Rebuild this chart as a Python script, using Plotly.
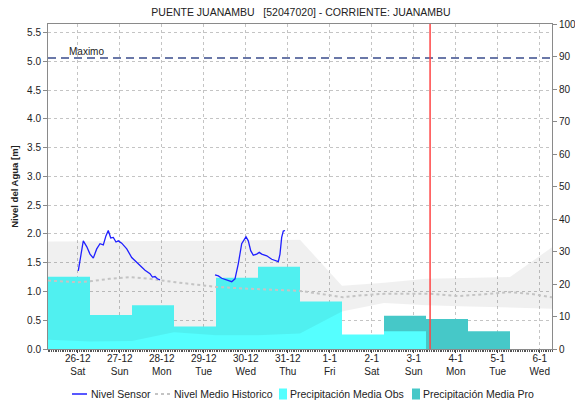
import pandas as pd
import plotly.graph_objects as go

# ---------------- data ----------------
x_start = "2020-12-25 07:00"
x_end = "2021-01-06 07:00"
now_mark = "2021-01-03 09:20"
nivel_maximo = 5.06
nivel_top = 5.65

# daily rainfall totals, each day runs 07:00 -> 07:00
obs_day_start = ["2020-12-25 07:00", "2020-12-26 07:00", "2020-12-27 07:00",
                 "2020-12-28 07:00", "2020-12-29 07:00", "2020-12-30 07:00",
                 "2020-12-31 07:00", "2021-01-01 07:00", "2021-01-02 07:00"]
obs_mm = [22.2, 10.5, 13.5, 6.9, 21.9, 25.3, 14.6, 4.5, 5.5]

pro_day_start = ["2021-01-02 07:00", "2021-01-03 07:00", "2021-01-04 07:00"]
pro_mm = [10.2, 9.2, 5.5]

# historic envelope (daily, 07:00)
hist_t = ["2020-12-25 07:00", "2020-12-26 07:00", "2020-12-27 07:00",
          "2020-12-28 07:00", "2020-12-29 07:00", "2020-12-30 07:00",
          "2020-12-31 07:00", "2021-01-01 07:00", "2021-01-02 07:00",
          "2021-01-03 07:00", "2021-01-04 07:00", "2021-01-05 07:00",
          "2021-01-06 07:00"]
hist_upper = [1.87, 1.87, 1.87, 1.87, 1.88, 1.89, 1.90, 1.10, 1.15, 1.22, 1.23, 1.25, 1.77]
hist_lower = [0.16, 0.13, 0.14, 0.29, 0.24, 0.24, 0.27, 0.65, 0.80, 0.76, 0.74, 0.72, 0.70]

# historic mean level
mean_t = ["2020-12-25 07:00", "2020-12-26 00:00", "2020-12-26 08:00",
          "2020-12-26 18:00", "2020-12-27 06:00", "2020-12-27 17:00",
          "2020-12-28 08:00", "2020-12-28 22:00", "2020-12-29 07:00",
          "2020-12-29 23:30", "2020-12-30 19:30", "2020-12-31 07:00",
          "2020-12-31 18:30", "2021-01-01 07:30", "2021-01-01 17:00",
          "2021-01-02 07:00", "2021-01-03 09:00", "2021-01-04 02:00",
          "2021-01-04 19:30", "2021-01-05 07:00", "2021-01-05 18:30",
          "2021-01-06 07:00"]
mean_lvl = [1.19, 1.16, 1.18, 1.22, 1.25, 1.22, 1.16, 1.11, 1.08, 1.05, 1.02,
            1.01, 0.96, 0.90, 0.93, 0.96, 0.96, 0.92, 0.96, 0.99, 0.96, 0.90]

# sensor readings (None = no data)
sensor_t = ["2020-12-26 00:18", "2020-12-26 01:41", "2020-12-26 03:10",
            "2020-12-26 05:07", "2020-12-26 07:00", "2020-12-26 08:53",
            "2020-12-26 10:50", "2020-12-26 12:43", "2020-12-26 14:36",
            "2020-12-26 16:09", "2020-12-26 17:27", "2020-12-26 18:50",
            "2020-12-26 20:19", "2020-12-26 21:51", "2020-12-26 23:10",
            "2020-12-27 01:07", "2020-12-27 04:00", "2020-12-27 06:50",
            "2020-12-27 10:36", "2020-12-27 14:26", "2020-12-27 17:17",
            "2020-12-27 18:40", "2020-12-27 20:09", "2020-12-27 21:30",
            "2020-12-27 23:00",
            "2020-12-28 12:00",
            "2020-12-29 06:26", "2020-12-29 08:20", "2020-12-29 10:15",
            "2020-12-29 13:06", "2020-12-29 16:00", "2020-12-29 17:51",
            "2020-12-29 19:44", "2020-12-29 21:41", "2020-12-30 00:09",
            "2020-12-30 01:27", "2020-12-30 02:50", "2020-12-30 04:19",
            "2020-12-30 06:15", "2020-12-30 07:44", "2020-12-30 09:07",
            "2020-12-30 12:00", "2020-12-30 14:50", "2020-12-30 18:36",
            "2020-12-30 19:34", "2020-12-30 20:32", "2020-12-30 21:27",
            "2020-12-30 22:26"]
sensor_lvl = [1.36, 1.59, 1.88, 1.78, 1.65, 1.58, 1.74, 1.83, 1.81, 1.97, 2.06,
              1.93, 1.94, 1.86, 1.88, 1.84, 1.74, 1.59, 1.48, 1.37, 1.31, 1.25,
              1.26, 1.22, 1.20,
              None,
              1.29, 1.27, 1.23, 1.20, 1.17, 1.22, 1.48, 1.83, 1.95, 1.88, 1.71,
              1.63, 1.65, 1.68, 1.65, 1.62, 1.56, 1.52, 1.65, 1.94, 2.05, 2.06]

tick_dates = ["2020-12-26", "2020-12-27", "2020-12-28", "2020-12-29",
              "2020-12-30", "2020-12-31", "2021-01-01", "2021-01-02",
              "2021-01-03", "2021-01-04", "2021-01-05", "2021-01-06"]
tick_day = ["26-12", "27-12", "28-12", "29-12", "30-12", "31-12",
            "1-1", "2-1", "3-1", "4-1", "5-1", "6-1"]
tick_wd = ["Sat", "Sun", "Mon", "Tue", "Wed", "Thu",
           "Fri", "Sat", "Sun", "Mon", "Tue", "Wed"]

# ---------------- colours ----------------
c_sensor = "#2020FF"
c_mean = "#C4C4C4"
c_obs = "#55FFFF"
c_pro = "#46C8C8"
grid = "#C4C4C4"
axis_line = "#8A8A8A"

# ---------------- figure ----------------
W, H = 575, 405
M_L, M_R, M_T, M_B = 48, 23, 24, 56
DAY_MS = 24 * 3600 * 1000
half_day = pd.Timedelta(hours=12)
obs_mid = pd.to_datetime(obs_day_start) + half_day
pro_mid = pd.to_datetime(pro_day_start) + half_day

fig = go.Figure()

fig.add_trace(go.Bar(x=pro_mid, y=pro_mm, width=[DAY_MS] * len(pro_mm),
                     marker=dict(color=c_pro, line=dict(width=0)),
                     name="Precipitación Media Pro", yaxis="y"))
fig.add_trace(go.Bar(x=obs_mid, y=obs_mm, width=[DAY_MS] * len(obs_mm),
                     marker=dict(color=c_obs, line=dict(width=0)),
                     name="Precipitación Media Obs", yaxis="y"))

# historic envelope, translucent so the bars show through
fig.add_trace(go.Scatter(x=hist_t, y=hist_lower, mode="lines",
                         line=dict(width=0), yaxis="y2", hoverinfo="skip"))
fig.add_trace(go.Scatter(x=hist_t, y=hist_upper, mode="lines",
                         line=dict(width=0), fill="tonexty",
                         fillcolor="rgba(0,0,0,0.06)", yaxis="y2",
                         hoverinfo="skip"))

fig.add_trace(go.Scatter(x=mean_t, y=mean_lvl, mode="lines",
                         line=dict(color=c_mean, width=2, dash="dot"),
                         name="Nivel Medio Historico", yaxis="y3"))
fig.add_trace(go.Scatter(x=sensor_t, y=sensor_lvl, mode="lines",
                         line=dict(color=c_sensor, width=1.3),
                         connectgaps=False,
                         name="Nivel Sensor", yaxis="y3"))

fig.add_shape(type="line", xref="paper", yref="y3", x0=0, x1=1,
              y0=nivel_maximo, y1=nivel_maximo,
              line=dict(color="#6A78A8", width=2, dash="8px,5px"))
fig.add_shape(type="line", xref="x", yref="paper", x0=now_mark, x1=now_mark,
              y0=0, y1=1, line=dict(color="#FF4444", width=1.5))
fig.add_annotation(text="Maximo", xref="paper", yref="y3", x=0.038,
                   y=nivel_maximo, xanchor="left", yanchor="bottom",
                   showarrow=False, font=dict(size=10, color="#222"), yshift=-1)

# legend row under the axis, laid out in pixel units of the page
plot_w = W - M_L - M_R
plot_h = H - M_T - M_B


def px_x(px):
    return (px - M_L) / plot_w


def px_y(py):
    return (H - M_B - py) / plot_h


leg_y = 394
legend_items = [
    ("line", c_sensor, "solid", 72, "Nivel Sensor"),
    ("line", c_mean, "3px,3px", 155, "Nivel Medio Historico"),
    ("box", c_obs, None, 279, "Precipitación Media Obs"),
    ("box", c_pro, None, 412, "Precipitación Media Pro"),
]
for kind, colour, dash, x0, label in legend_items:
    if kind == "line":
        fig.add_shape(type="line", xref="paper", yref="paper",
                      x0=px_x(x0), x1=px_x(x0 + 15),
                      y0=px_y(leg_y), y1=px_y(leg_y),
                      line=dict(color=colour, width=2 if dash != "solid" else 1.5,
                                dash=dash))
        tx = x0 + 17
    else:
        fig.add_shape(type="rect", xref="paper", yref="paper",
                      x0=px_x(x0), x1=px_x(x0 + 8),
                      y0=px_y(leg_y + 5.5), y1=px_y(leg_y - 5.5),
                      line=dict(width=0), fillcolor=colour)
        tx = x0 + 9
    fig.add_annotation(text=label, xref="paper", yref="paper",
                       x=px_x(tx), y=px_y(leg_y), xanchor="left",
                       yanchor="middle", showarrow=False,
                       font=dict(size=10.5, color="#222"))

fig.update_layout(
    width=W, height=H,
    margin=dict(l=M_L, r=M_R, t=M_T, b=M_B, autoexpand=False),
    paper_bgcolor="white", plot_bgcolor="white",
    font=dict(family="Liberation Sans, Arial, sans-serif", size=10, color="#222"),
    barmode="overlay",
    showlegend=False,
    title=dict(text="PUENTE JUANAMBU\u00a0\u00a0\u00a0[52047020] - CORRIENTE: JUANAMBU",
               x=301 / W, xanchor="center", xref="container",
               y=1 - 12 / H, yanchor="middle", yref="container",
               font=dict(size=10.5, color="#222")),
    xaxis=dict(type="date", range=[x_start, x_end],
               tickmode="array", tickvals=tick_dates,
               ticktext=[f"{d}<br>{w}" for d, w in zip(tick_day, tick_wd)],
               showgrid=True, gridcolor=grid, griddash="dot", gridwidth=1,
               showline=True, linecolor=axis_line, mirror=True,
               ticks="outside", ticklen=3, tickcolor="#444",
               ticklabelstandoff=-3,
               minor=dict(dtick=3600000, ticks="outside", ticklen=2,
                          tickcolor="#555", showgrid=False),
               tickfont=dict(size=10), zeroline=False),
    yaxis=dict(side="right", range=[0, 100], dtick=10, ticks="outside",
               ticklen=4, tickcolor=axis_line, showgrid=False, showline=True,
               linecolor=axis_line, zeroline=False, tickfont=dict(size=10)),
    yaxis2=dict(overlaying="y", range=[0, nivel_top], visible=False),
    yaxis3=dict(overlaying="y", side="left", range=[0, nivel_top], dtick=0.5,
                tickformat=".1f", ticks="outside", ticklen=4, tickcolor=axis_line,
                showgrid=True, gridcolor=grid, griddash="dot", gridwidth=1,
                showline=True, linecolor=axis_line, zeroline=False,
                tickfont=dict(size=10),
                title=dict(text="<b>Nivel del Agua [m]</b>", font=dict(size=9.5),
                           standoff=6)),
)

fig.write_html("out.html")
